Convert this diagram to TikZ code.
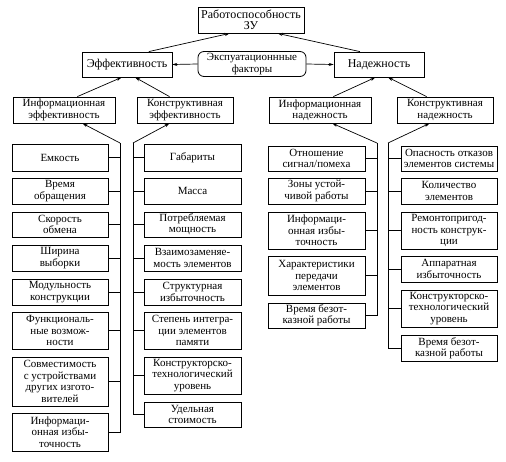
\documentclass[tikz,border=0pt]{standalone}
\usepackage{fontspec}
\setmainfont{Liberation Serif}
\usetikzlibrary{arrows.meta,calc}
\begin{document}
\begin{tikzpicture}[x=1pt,y=-1pt,
  box/.style={draw, line width=0.8pt, inner sep=0pt, align=center, font=\fontsize{11}{11.4}\selectfont},
  lc/.style={box, minimum width=96pt},
  arr/.style={line width=0.7pt, -{Stealth[length=5pt,width=3.2pt]}},
  ln/.style={line width=0.8pt}]
\useasboundingbox (0,0) rectangle (506,461);
\fill[white] (0,0) rectangle (506,461);
% top levels
\node[box, minimum width=106pt, minimum height=26pt, font=\fontsize{12}{11.4}\selectfont] (top) at (251,20) {Работоспособность\\ЗУ};
\node[box, minimum width=90pt, minimum height=25pt, font=\fontsize{12}{11.4}\selectfont] (eff) at (127,64.5) {Эффективность};
\node[box, minimum width=90pt, minimum height=25pt, font=\fontsize{12}{11.4}\selectfont] (nad) at (379,64.5) {Надежность};
\node[box, rounded corners=6pt, minimum width=108pt, minimum height=25pt] (exp) at (252,64) {Экспуатационнные\\факторы};
\node[box, minimum width=102pt, minimum height=26pt] (ie) at (64,110) {Информационная\\эффективность};
\node[box, minimum width=96pt, minimum height=26pt] (ce) at (185,110) {Конструктивная\\эффективность};
\node[box, minimum width=102pt, minimum height=26pt] (in) at (320,110) {Информационная\\надежность};
\node[box, minimum width=96pt, minimum height=26pt] (cn) at (445,110) {Конструктивная\\надежность};
% arrows upper
\draw[arr] ($(eff.north west)!0.74!(eff.north east)$) -- ($(top.south west)!0.30!(top.south east)$);
\draw[arr] ($(nad.north west)!0.29!(nad.north east)$) -- ($(top.south west)!0.75!(top.south east)$);
\draw[arr] (exp.west) -- (eff.east);
\draw[arr] (exp.east) -- (nad.west);
\draw[arr] ($(ie.north west)!0.63!(ie.north east)$) -- ($(eff.south west)!0.44!(eff.south east)$);
\draw[arr] ($(ce.north west)!0.34!(ce.north east)$) -- ($(eff.south west)!0.59!(eff.south east)$);
\draw[arr] ($(in.north west)!0.63!(in.north east)$) -- ($(nad.south west)!0.46!(nad.south east)$);
\draw[arr] ($(cn.north west)!0.31!(cn.north east)$) -- ($(nad.south west)!0.60!(nad.south east)$);
% bus coordinates
\coordinate (bie) at (120,143);
\coordinate (bce) at (133,143);
\coordinate (bin) at (377,143);
\coordinate (bcn) at (388,143);
% left column
\node[lc, minimum height=27pt] (l1) at (60,157.5) {Емкость};
\node[lc, minimum height=26pt] (l2) at (60,191) {Время\\обращения};
\node[lc, minimum height=25pt] (l3) at (60,224.5) {Скорость\\обмена};
\node[lc, minimum height=26pt] (l4) at (60,258) {Ширина\\выборки};
\node[lc, minimum height=26pt] (l5) at (60,292) {Модульность\\конструкции};
\node[lc, minimum height=37pt] (l6) at (60,330.5) {Функциональ-\\ные возмож-\\ности};
\node[lc, minimum height=49pt] (l7) at (60,381.5) {Совместимость\\с устройствами\\других изгото-\\вителей};
\node[lc, minimum height=38pt] (l8) at (60,432) {Информаци-\\онная избы-\\точность};
% second column
\node[lc, minimum width=97pt, minimum height=27pt] (r1) at (192.5,157.5) {Габариты};
\node[lc, minimum width=97pt, minimum height=26pt] (r2) at (192.5,191) {Масса};
\node[lc, minimum width=97pt, minimum height=25pt] (r3) at (192.5,224.5) {Потребляемая\\мощность};
\node[lc, minimum width=97pt, minimum height=26pt] (r4) at (192.5,258) {Взаимозаменяе-\\мость элементов};
\node[lc, minimum width=97pt, minimum height=26pt] (r5) at (192.5,292) {Структурная\\избыточность};
\node[lc, minimum width=97pt, minimum height=37pt] (r6) at (192.5,330.5) {Степень интегра-\\ции элементов\\памяти};
\node[lc, minimum width=97pt, minimum height=37pt] (r7) at (192.5,375.5) {Конструкторско-\\технологический\\уровень};
\node[lc, minimum width=97pt, minimum height=25pt] (r8) at (192.5,414.5) {Удельная\\стоимость};
% third column
\node[lc, minimum width=97pt, minimum height=25pt] (n1) at (316.5,158.5) {Отношение\\сигнал/помеха};
\node[lc, minimum width=97pt, minimum height=26pt] (n2) at (316.5,191) {Зоны устой-\\чивой работы};
\node[lc, minimum width=97pt, minimum height=37pt] (n3) at (316.5,230.5) {Информаци-\\онная избы-\\точность};
\node[lc, minimum width=97pt, minimum height=39pt] (n4) at (316.5,275.5) {Характеристики\\передачи\\элементов};
\node[lc, minimum width=97pt, minimum height=25pt] (n5) at (316.5,315.5) {Время безот-\\казной работы};
% fourth column
\node[lc, minimum height=25pt] (c1) at (449,158.5) {Опасность отказов\\элементов системы};
\node[lc, minimum height=26pt] (c2) at (449,191) {Количество\\элементов};
\node[lc, minimum height=37pt] (c3) at (449,230.5) {Ремонтопригод-\\ность конструк-\\ции};
\node[lc, minimum height=26pt] (c4) at (449,269) {Аппаратная\\избыточность};
\node[lc, minimum height=37pt] (c5) at (449,308.5) {Конструкторско-\\технологический\\уровень};
\node[lc, minimum height=26pt] (c6) at (449,348) {Время безот-\\казной работы};
% buses with arrows
\draw[arr] (bie) -- ($(ie.south west)!0.68!(ie.south east)$);
\draw[arr] (bce) -- ($(ce.south west)!0.34!(ce.south east)$);
\draw[arr] (bin) -- ($(in.south west)!0.62!(in.south east)$);
\draw[arr] (bcn) -- ($(cn.south west)!0.34!(cn.south east)$);
\draw[ln] (bie) -- (l8.east -| bie) -- (l8.east);
\draw[ln] (bce) -- (r8.west -| bce) -- (r8.west);
\draw[ln] (bin) -- (n5.east -| bin) -- (n5.east);
\draw[ln] (bcn) -- (c6.west -| bcn) -- (c6.west);
\foreach \n in {l1,l2,l3,l4,l5,l6,l7} \draw[ln] (\n.east) -- (\n.east -| bie);
\foreach \n in {r1,r2,r3,r4,r5,r6,r7} \draw[ln] (\n.west) -- (\n.west -| bce);
\foreach \n in {n1,n2,n3,n4} \draw[ln] (\n.east) -- (\n.east -| bin);
\foreach \n in {c1,c2,c3,c4,c5} \draw[ln] (\n.west) -- (\n.west -| bcn);
\end{tikzpicture}
\end{document}
